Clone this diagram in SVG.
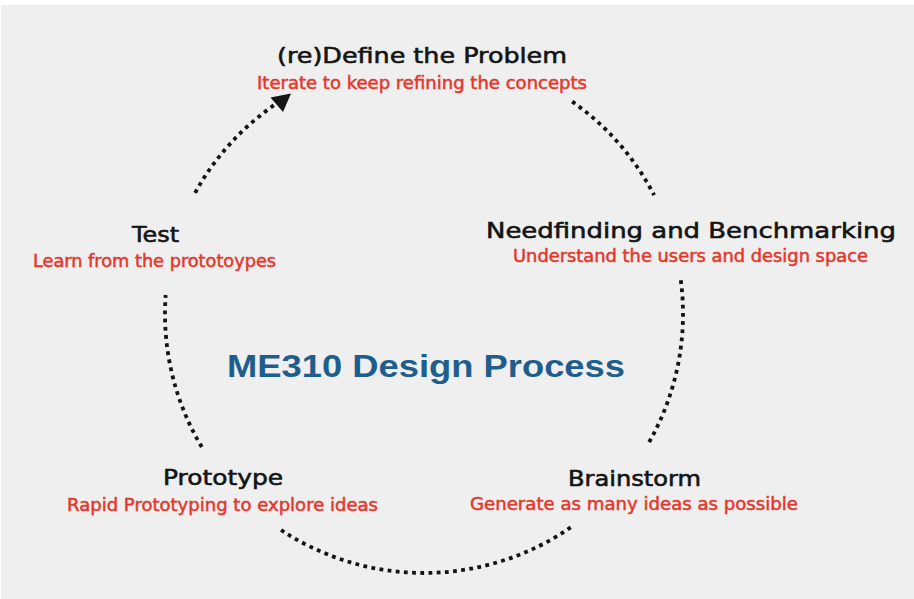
<svg xmlns="http://www.w3.org/2000/svg" width="914" height="599" viewBox="0 0 914 599">
<style>
.t{font-family:"DejaVu Sans","Liberation Sans",sans-serif;font-size:22px;fill:#141414;stroke:#141414;stroke-width:0.6;text-anchor:middle}
.s{font-family:"DejaVu Sans","Liberation Sans",sans-serif;font-size:17px;fill:#e5372b;stroke:#e5372b;stroke-width:0.5;text-anchor:middle}
.m{font-family:"Liberation Sans",Arial,sans-serif;font-size:32px;font-weight:bold;fill:#1d5e8d;text-anchor:middle}
.arc{fill:none;stroke:#141414;stroke-width:3.8;stroke-dasharray:3.8 4.4}
</style>
<rect x="0" y="0" width="914" height="599" fill="#ffffff"/>
<rect x="1" y="5" width="913" height="594" fill="#efefef"/>
<g id="connectors">
<path class="arc" d="M195.1,192.8 A259,259 0 0 1 276.5,103.5"/>
<polygon points="270.5,97.5 291,93.5 283,112" fill="#141414"/>
<path class="arc" d="M572.2,101.6 A259,259 0 0 1 654.1,195.2"/>
<path class="arc" d="M680.8,280.2 A259,259 0 0 1 647.4,445.1"/>
<path class="arc" d="M570.7,527.4 A259,259 0 0 1 278.4,528.2"/>
<path class="arc" d="M201.8,447.0 A259,259 0 0 1 165.7,295.0"/>
</g>
<g id="node-define">
<text class="t" x="422" y="63" textLength="290" lengthAdjust="spacingAndGlyphs">(re)Define the Problem</text>
<text class="s" x="422" y="89" textLength="330" lengthAdjust="spacingAndGlyphs">Iterate to keep refining the concepts</text>
</g>
<g id="node-needfinding">
<text class="t" x="691" y="238" textLength="410" lengthAdjust="spacingAndGlyphs">Needfinding and Benchmarking</text>
<text class="s" x="690.5" y="262" textLength="355" lengthAdjust="spacingAndGlyphs">Understand the users and design space</text>
</g>
<g id="node-brainstorm">
<text class="t" x="634.5" y="486" textLength="133" lengthAdjust="spacingAndGlyphs">Brainstorm</text>
<text class="s" x="634" y="510" textLength="328" lengthAdjust="spacingAndGlyphs">Generate as many ideas as possible</text>
</g>
<g id="node-prototype">
<text class="t" x="223" y="485" textLength="120" lengthAdjust="spacingAndGlyphs">Prototype</text>
<text class="s" x="222.5" y="511" textLength="311" lengthAdjust="spacingAndGlyphs">Rapid Prototyping to explore ideas</text>
</g>
<g id="node-test">
<text class="t" x="155.5" y="242" textLength="47" lengthAdjust="spacingAndGlyphs">Test</text>
<text class="s" x="154.5" y="267" textLength="243" lengthAdjust="spacingAndGlyphs">Learn from the prototoypes</text>
</g>
<g id="title">
<text class="m" x="426" y="377" textLength="398" lengthAdjust="spacingAndGlyphs">ME310 Design Process</text>
</g>
</svg>
